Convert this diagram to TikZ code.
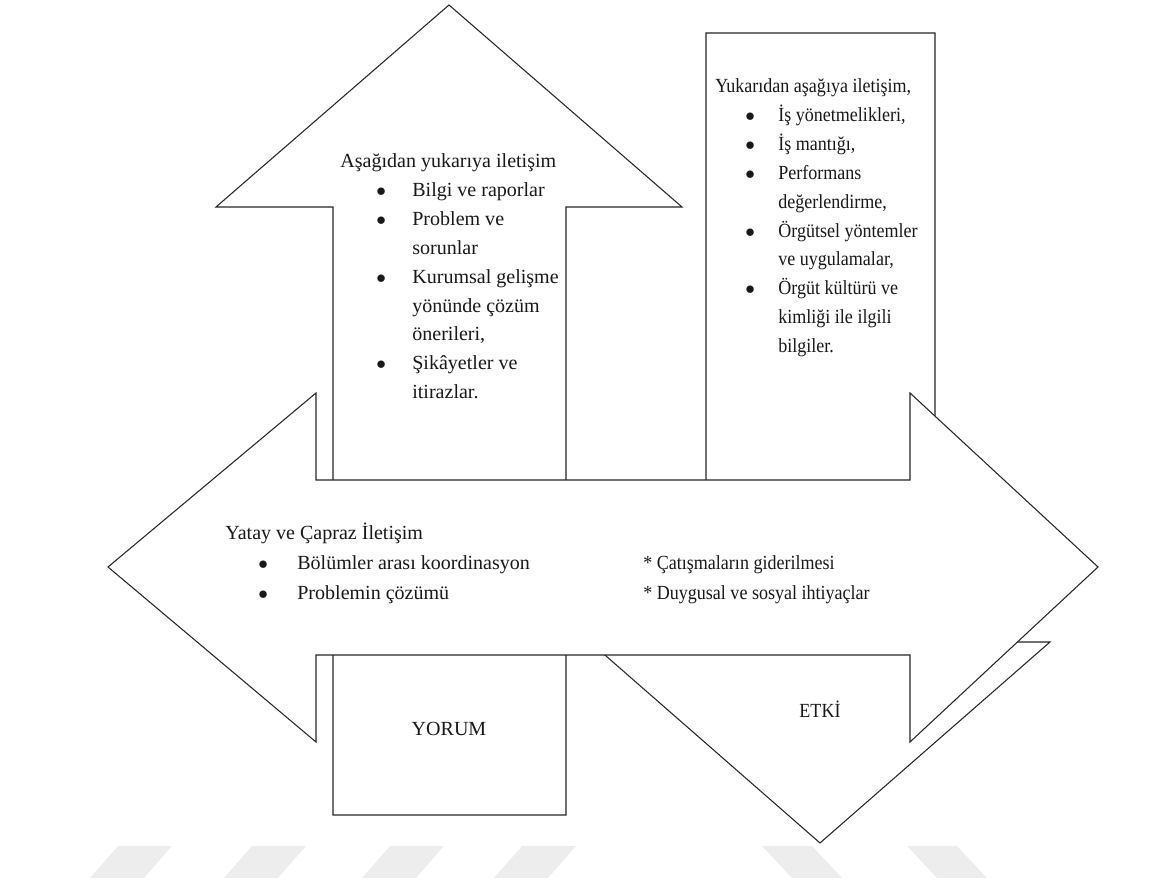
\documentclass[tikz,border=0pt]{standalone}
\usepackage{fontspec}
\setmainfont{Liberation Serif}
\newfontfamily\narrowfont{Liberation Serif}[FakeStretch=0.9]
\usepackage{array}
\colorlet{penColor}{black!85}
\colorlet{markColor}{black!7}
\newcommand{\blt}{$\bullet$}
\tikzset{
  arrowShape/.style={draw=penColor, fill=white, line width=0.6pt, line join=miter},
  txt/.style={inner sep=0pt, text=black!90, font=\fontsize{11.4}{16.4}\selectfont},
  narrowtxt/.style={txt, font=\narrowfont\fontsize{11.4}{16.4}\selectfont}
}

\begin{document}
\begin{tikzpicture}
\useasboundingbox (0,0) rectangle (23.08,17.64);
% faint marks along the bottom
\foreach \x in {2.36,5.04,7.8,10.44}
  \fill[markColor] (\x,0.72) -- ++(1.08,0) -- ++(-0.56,-0.64) -- ++(-1.08,0) -- cycle;
\foreach \x in {15.24,18.14}
  \fill[markColor] (\x,0.72) -- ++(1.0,0) -- ++(0.6,-0.64) -- ++(-1.0,0) -- cycle;
% upward arrow (YORUM)
\draw[arrowShape] (6.66,1.34) -- (6.66,13.5) -- (4.32,13.5) -- (8.98,17.54)
  -- (13.64,13.5) -- (11.32,13.5) -- (11.32,1.34) -- cycle;
% downward arrow (ETKI)
\draw[arrowShape] (14.12,16.98) -- (18.70,16.98) -- (18.70,4.8) -- (21.0,4.8)
  -- (16.4,0.78) -- (11.8,4.8) -- (14.12,4.8) -- cycle;
% horizontal double arrow on top
\draw[arrowShape] (2.16,6.3) -- (6.32,9.78) -- (6.32,8.04) -- (18.2,8.04)
  -- (18.2,9.78) -- (21.96,6.3) -- (18.2,2.8) -- (18.2,4.54)
  -- (6.32,4.54) -- (6.32,2.8) -- cycle;

\node[txt, anchor=base west] (upText) at (6.8,14.28) {%
\begin{tabular}[t]{@{\hspace{0.72cm}}p{0.72cm}@{}l@{}}
\multicolumn{2}{@{}l@{}}{Aşağıdan yukarıya iletişim}\\
\blt & Bilgi ve raporlar\\
\blt & Problem ve\\
 & sorunlar\\
\blt & Kurumsal gelişme\\
 & yönünde çözüm\\
 & önerileri,\\
\blt & Şikâyetler ve\\
 & itirazlar.
\end{tabular}};

\node[narrowtxt, anchor=base west] (downText) at (14.3,15.78) {%
\begin{tabular}[t]{@{\hspace{0.6cm}}p{0.66cm}@{}l@{}}
\multicolumn{2}{@{}l@{}}{Yukarıdan aşağıya iletişim,}\\
\blt & İş yönetmelikleri,\\
\blt & İş mantığı,\\
\blt & Performans\\
 & değerlendirme,\\
\blt & Örgütsel yöntemler\\
 & ve uygulamalar,\\
\blt & Örgüt kültürü ve\\
 & kimliği ile ilgili\\
 & bilgiler.
\end{tabular}};

\node[txt, anchor=base west] (sideText) at (4.5,6.84) {%
\begin{tabular}[t]{@{\hspace{0.66cm}}p{0.78cm}@{}l@{}}
\multicolumn{2}{@{}l@{}}{Yatay ve Çapraz İletişim}\\[0.6pt]
\blt & Bölümler arası koordinasyon\\[0.6pt]
\blt & Problemin çözümü
\end{tabular}};

\node[narrowtxt, anchor=base west] (needText) at (12.86,6.24) {%
\begin{tabular}[t]{@{}l@{}}
* Çatışmaların giderilmesi\\[0.6pt]
* Duygusal ve sosyal ihtiyaçlar
\end{tabular}};

\node[txt, anchor=base] (yorum) at (8.98,2.92) {YORUM};
\node[narrowtxt, anchor=base] (etki) at (16.4,3.28) {ETKİ};
\end{tikzpicture}
\end{document}
